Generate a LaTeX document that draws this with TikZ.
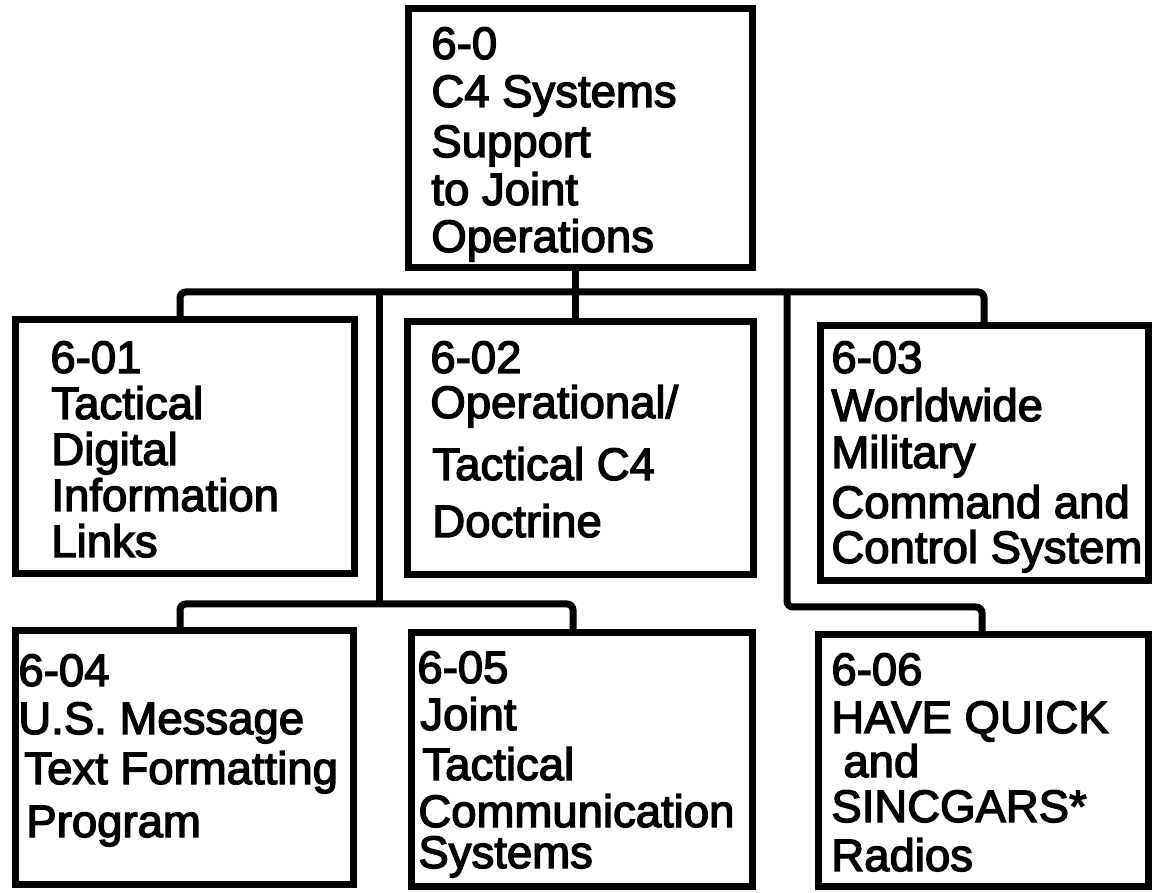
\documentclass[tikz,border=0pt]{standalone}
\usepackage{fontspec}
\setmainfont{Liberation Sans}[FakeBold=3]
\begin{document}
\begin{tikzpicture}[x=0.5pt,y=-0.5pt,
  box/.style={draw, line width=3.5pt, outer sep=0pt, inner sep=0pt},
  conn/.style={line width=3.5pt, rounded corners=3pt},
  txt/.style={inner sep=0pt, anchor=base west, font=\fontsize{22.75pt}{27pt}\selectfont}]
\useasboundingbox (0,0) rectangle (1153,893);
% boxes
\node[box, minimum width=172pt,   minimum height=129.5pt] (b0) at (580.5,138.5) {};
\node[box, minimum width=169.5pt, minimum height=127pt]   (b1) at (184.5,447) {};
\node[box, minimum width=173pt,   minimum height=126.5pt] (b2) at (580,448.5) {};
\node[box, minimum width=164pt,   minimum height=127.5pt] (b3) at (984,453.5) {};
\node[box, minimum width=169pt,   minimum height=127pt]   (b4) at (184,757.5) {};
\node[box, minimum width=170.5pt, minimum height=126.5pt] (b5) at (581.5,759.5) {};
\node[box, minimum width=165pt,   minimum height=125.5pt] (b6) at (983,760.5) {};
% junctions
\coordinate (j0) at (575,292);
\coordinate (jl) at (180,292);
\coordinate (jr) at (984,292);
\coordinate (jm1) at (379,292);
\coordinate (jm2) at (787,292);
\coordinate (k0) at (379,604);
\coordinate (kl) at (180,604);
\coordinate (kr) at (573,604);
\coordinate (mr) at (982,607);
% connectors
\draw[conn] (b0.south -| j0) -- (b2.north -| j0);
\draw[conn] (b1.north -| jl) |- (jr) -- (b3.north -| jr);
\draw[conn] (jm1) -- (k0);
\draw[conn] (b4.north -| kl) |- (kr) -- (b5.north -| kr);
\draw[conn] (jm2) |- (mr) -- (b6.north -| mr);
% texts 6-0
\node[txt] (t0a) at (431,59) {6-0};
\node[txt] (t0b) at (431,107) {C4 Systems};
\node[txt] (t0c) at (431,157) {Support};
\node[txt] (t0d) at (431,205) {to Joint};
\node[txt] (t0e) at (431,252) {Operations};
% 6-01
\node[txt] (t1a) at (50,373) {6-01};
\node[txt] (t1b) at (51,419) {Tactical};
\node[txt] (t1c) at (51,465) {Digital};
\node[txt] (t1d) at (51,511) {Information};
\node[txt] (t1e) at (51,557) {Links};
% 6-02
\node[txt] (t2a) at (430,373) {6-02};
\node[txt] (t2b) at (430,418) {Operational/};
\node[txt] (t2c) at (432,480) {Tactical C4};
\node[txt] (t2d) at (432,537) {Doctrine};
% 6-03
\node[txt] (t3a) at (831,373) {6-03};
\node[txt] (t3b) at (831,421) {Worldwide};
\node[txt] (t3c) at (831,468) {Military};
\node[txt] (t3d) at (831,518) {Command and};
\node[txt] (t3e) at (831,563) {Control System};
% 6-04
\node[txt] (t4a) at (18,686) {6-04};
\node[txt] (t4b) at (18,734) {U.S. Message};
\node[txt] (t4c) at (24,784) {Text Formatting};
\node[txt] (t4d) at (26,837) {Program};
% 6-05
\node[txt] (t5a) at (417,683) {6-05};
\node[txt] (t5b) at (420,730) {Joint};
\node[txt] (t5c) at (422,780) {Tactical};
\node[txt] (t5d) at (418,827) {Communication};
\node[txt] (t5e) at (418,868) {Systems};
% 6-06
\node[txt] (t6a) at (831,685) {6-06};
\node[txt] (t6b) at (831,733) {HAVE QUICK};
\node[txt] (t6c) at (843,777) {and};
\node[txt] (t6d) at (831,822) {SINCGARS*};
\node[txt] (t6e) at (831,871) {Radios};
\end{tikzpicture}
\end{document}
